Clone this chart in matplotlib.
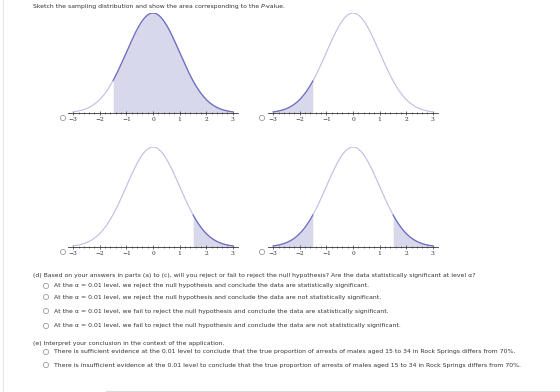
import numpy as np
import matplotlib.pyplot as plt
from matplotlib.patches import Circle

# panel data
tick_values = [-3, -2, -1, 0, 1, 2, 3]
tick_labels = ["\u22123", "\u22122", "\u22121", "0", "1", "2", "3"]
z_cut = 1.5
shade_regions = [
    [(-z_cut, 3)],
    [(-3, -z_cut)],
    [(z_cut, 3)],
    [(-3, -z_cut), (z_cut, 3)],
]
# panel centres (pixel x of z=0, pixel y of baseline)
panel_x0 = [153, 353, 153, 353]
panel_base = [113, 113, 247, 247]

title_parts = ["Sketch the sampling distribution and show the area corresponding to the ",
               "P", "-value."]
part_d = ("(d) Based on your answers in parts (a) to (c), will you reject or fail to reject "
          "the null hypothesis? Are the data statistically significant at level \u03b1?")
d_options = [
    "At the \u03b1 = 0.01 level, we reject the null hypothesis and conclude the data are statistically significant.",
    "At the \u03b1 = 0.01 level, we reject the null hypothesis and conclude the data are not statistically significant.",
    "At the \u03b1 = 0.01 level, we fail to reject the null hypothesis and conclude the data are statistically significant.",
    "At the \u03b1 = 0.01 level, we fail to reject the null hypothesis and conclude the data are not statistically significant.",
]
part_e = "(e) Interpret your conclusion in the context of the application."
e_options = [
    "There is sufficient evidence at the 0.01 level to conclude that the true proportion of arrests "
    "of males aged 15 to 34 in Rock Springs differs from 70%.",
    "There is insufficient evidence at the 0.01 level to conclude that the true proportion of arrests "
    "of males aged 15 to 34 in Rock Springs differs from 70%.",
]

W, H = 560, 392
fig = plt.figure(figsize=(W / 100, H / 100), dpi=100)

line_col = "#bdbde6"
fill_col = "#d8d8ec"
edge_col = "#6e6ec0"
unit = 26.6  # pixels per z unit
peak_px = 100

z = np.linspace(-3, 3, 400)
pdf = np.exp(-z ** 2 / 2) / np.sqrt(2 * np.pi)

for i in range(4):
    left = panel_x0[i] - 3.2 * unit
    width = 6.4 * unit
    bottom = H - panel_base[i]
    ax = fig.add_axes([left / W, bottom / H, width / W, peak_px / H])
    ax.set_xlim(-3.2, 3.2)
    ax.set_ylim(0, 0.399)
    ax.plot(z, pdf, color=line_col, lw=0.8)
    for lo, hi in shade_regions[i]:
        m = (z >= lo) & (z <= hi)
        ax.fill_between(z[m], pdf[m], color=fill_col, lw=0)
        ax.plot(z[m], pdf[m], color=edge_col, lw=0.9)
    for s in ["top", "right", "left"]:
        ax.spines[s].set_visible(False)
    ax.spines["bottom"].set_color("#333333")
    ax.spines["bottom"].set_linewidth(0.6)
    ax.set_yticks([])
    ax.set_xticks(tick_values)
    ax.set_xticklabels(tick_labels, family="DejaVu Serif", fontsize=4.3, color="#333333")
    ax.set_xticks(np.arange(-3, 3.01, 0.2), minor=True)
    ax.tick_params(axis="x", which="major", direction="inout", length=2.5, width=0.5,
                   pad=1.5, color="#333333")
    ax.tick_params(axis="x", which="minor", direction="inout", length=1.6, width=0.4,
                   color="#333333")
    ax.patch.set_alpha(0)

# overlay for text and radio buttons
ov = fig.add_axes([0, 0, 1, 1], zorder=-1)
ov.set_xlim(0, W)
ov.set_ylim(H, 0)
ov.axis("off")

fs = 4.45
txt = dict(family="DejaVu Sans", fontsize=fs, color="#333333", va="center", ha="left")
radio = dict(radius=2.6, fill=False, ec="#8a8a8a", lw=0.5)

ov.plot([2.5, 2.5], [0, H], color="#e6e6e6", lw=0.8)

# title with italic P
fig.canvas.draw()
rend = fig.canvas.get_renderer()
x = 33
for k, part in enumerate(title_parts):
    t = ov.text(x, 6, part, **txt)
    if part == "P":
        t.set_style("italic")
    bb = t.get_window_extent(renderer=rend)
    x += bb.width

for cx, cy in [(63, 118), (262, 118), (63, 252), (262, 252)]:
    ov.add_patch(Circle((cx, cy), **radio))

ov.text(33, 276, part_d, **txt)
for k, y in enumerate([286, 297, 311, 326]):
    ov.add_patch(Circle((46, y), **radio))
    ov.text(54, y, d_options[k], **txt)

ov.text(33, 343, part_e, **txt)
for k, y in enumerate([352, 365]):
    ov.add_patch(Circle((46, y), **radio))
    ov.text(54, y, e_options[k], **txt)

ov.plot([106, W], [390.5, 390.5], color="#dcdcdc", lw=0.8)

fig.savefig("out.png", dpi=100)
